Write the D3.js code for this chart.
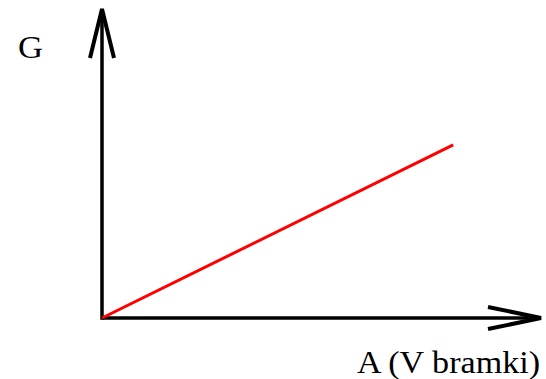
<!DOCTYPE html>
<html><head><meta charset="utf-8">
<script src="https://cdn.jsdelivr.net/npm/d3@7"></script>
<style>html,body{margin:0;padding:0;background:#fff;}svg{display:block;}
text{font-family:'Liberation Serif','Times New Roman',serif;}</style>
</head><body>
<svg id="c" width="546" height="379"></svg>
<script>
const lineX = [0, 0.8];
const lineY = [0, 0.56];
const xLabel = "A (V bramki)";
const yLabel = "G";

const svg = d3.select("#c");
const x = d3.scaleLinear().domain([0, 1]).range([102, 541]);
const y = d3.scaleLinear().domain([0, 1]).range([318, 9]);

// axes
svg.append("line").attr("x1", x(0)).attr("y1", y(0)).attr("x2", x(1)).attr("y2", y(0))
  .attr("stroke", "#000").attr("stroke-width", 3.5);
svg.append("line").attr("x1", x(0)).attr("y1", y(0)+1.75).attr("x2", x(0)).attr("y2", y(1))
  .attr("stroke", "#000").attr("stroke-width", 3.5);
// arrowheads
svg.append("path").attr("d", `M${x(1)-53},${y(0)-11}L${x(1)},${y(0)}L${x(1)-53},${y(0)+11}`)
  .attr("fill", "none").attr("stroke", "#000").attr("stroke-width", 4).attr("stroke-linejoin", "miter");
svg.append("path").attr("d", `M${x(0)-12},${y(1)+49}L${x(0)},${y(1)}L${x(0)+12},${y(1)+49}`)
  .attr("fill", "none").attr("stroke", "#000").attr("stroke-width", 4).attr("stroke-linejoin", "miter");

// red line
const pts = lineX.map((d, i) => [d, lineY[i]]);
svg.append("path").datum(pts)
  .attr("d", d3.line().x(d => x(d[0])).y(d => y(d[1])))
  .attr("fill", "none").attr("stroke", "#ff0000").attr("stroke-width", 3);

// labels
svg.append("text").attr("x", 18).attr("y", 58).text(yLabel).style("font-size", "31px")
  .attr("textLength", 25).attr("lengthAdjust", "spacingAndGlyphs");
svg.append("text").attr("x", 357).attr("y", 373).text(xLabel).style("font-size", "31px")
  .attr("textLength", 183).attr("lengthAdjust", "spacingAndGlyphs");
</script>
</body></html>
